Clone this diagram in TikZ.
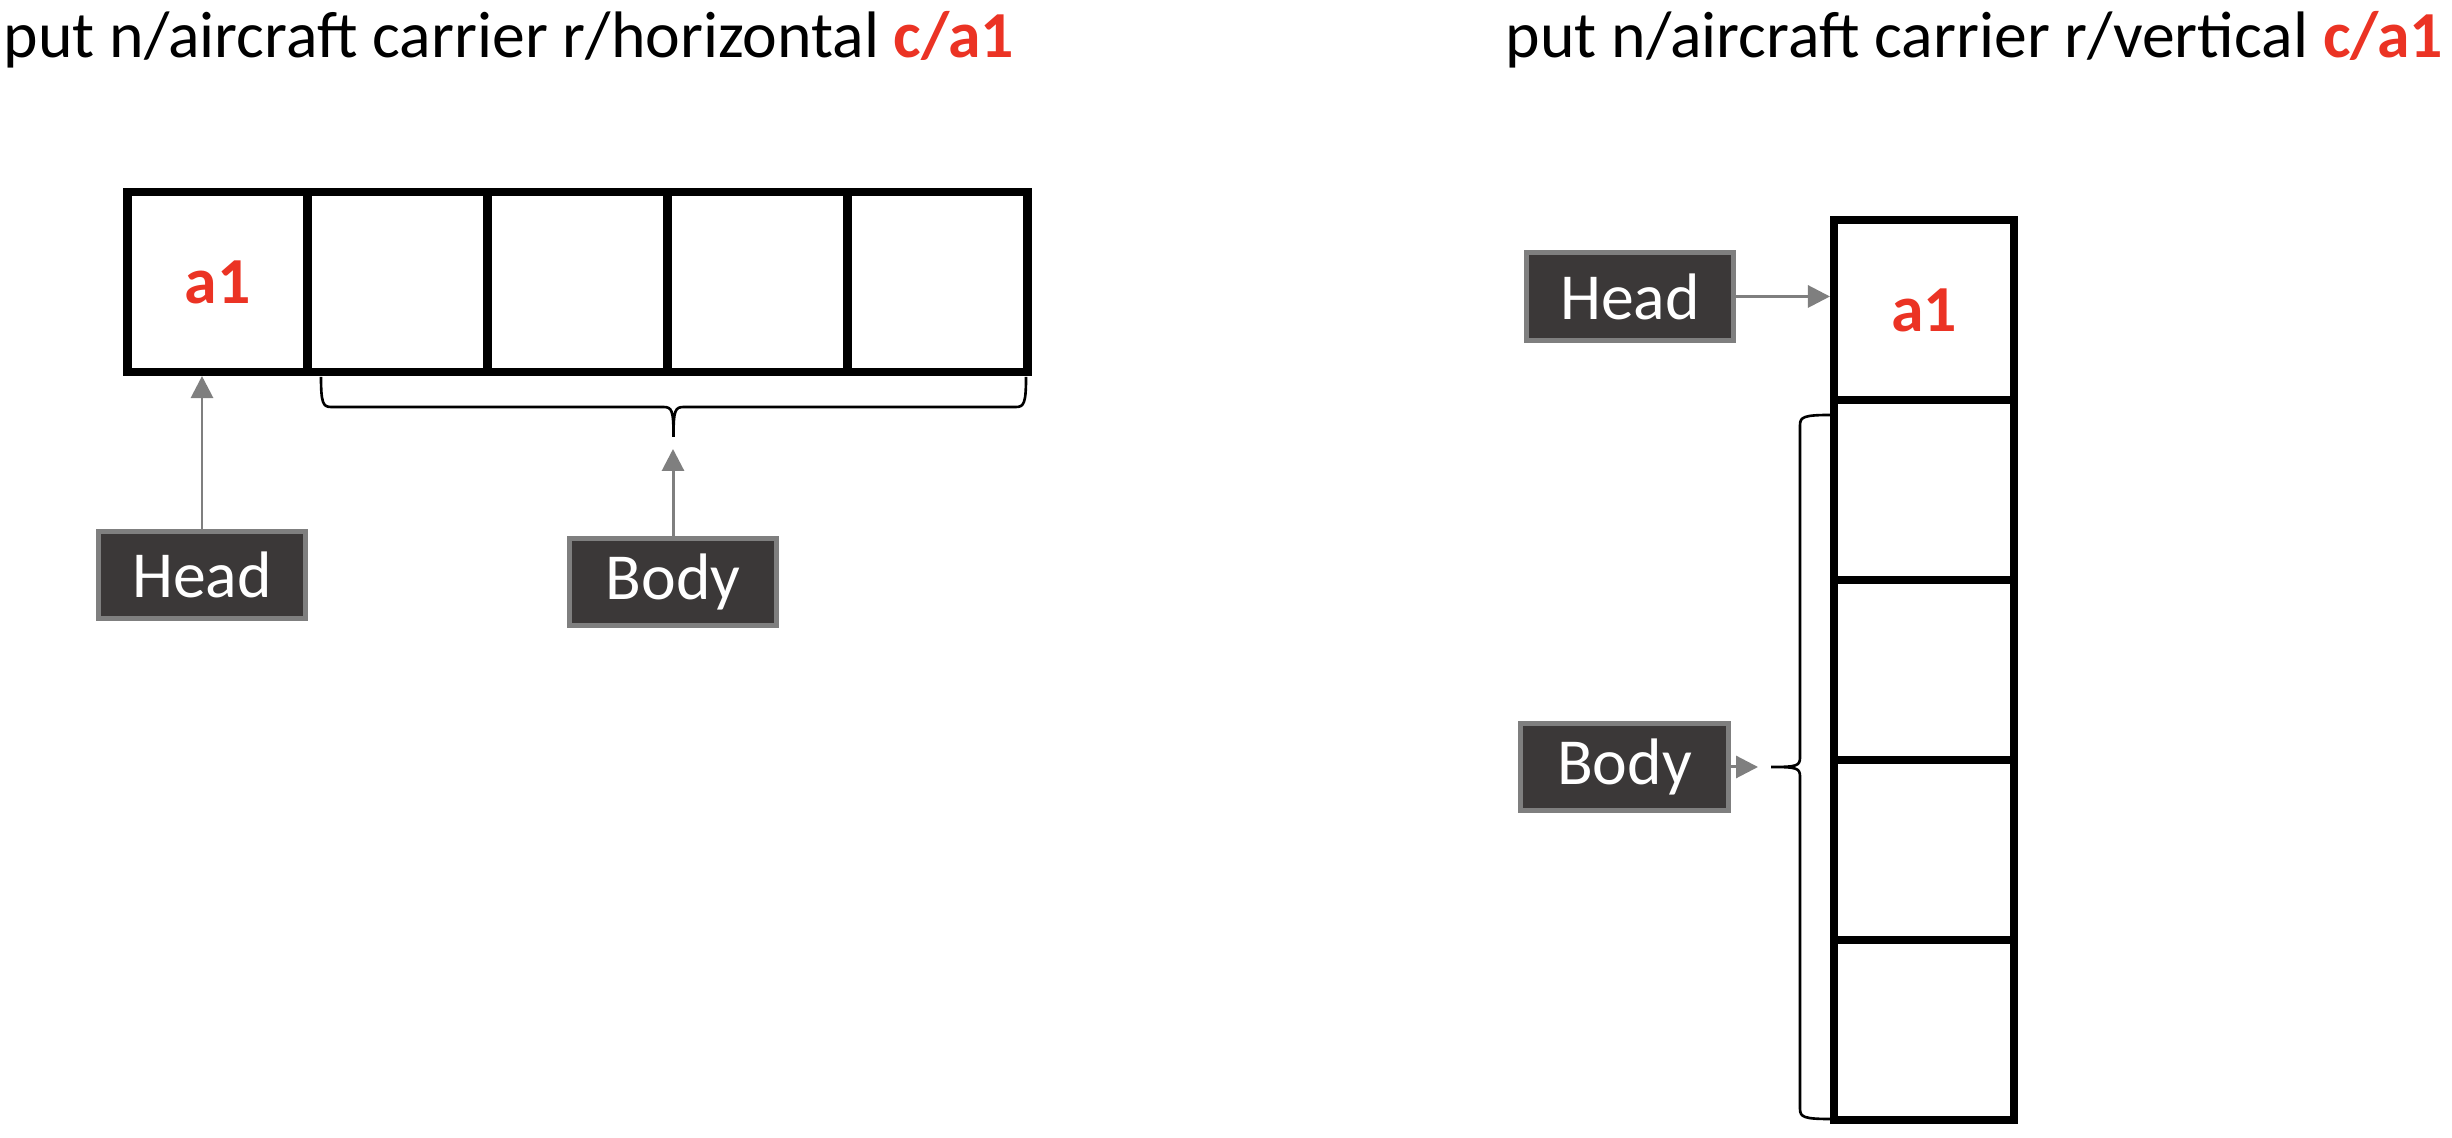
\documentclass[tikz,border=0pt]{standalone}
\usepackage{fontspec}
\setmainfont{Carlito}
\usepackage{tikz}
\usetikzlibrary{arrows.meta}
\definecolor{hitred}{RGB}{235,51,36}
\definecolor{tagfill}{RGB}{59,56,56}
\definecolor{tagedge}{RGB}{127,127,127}

\begin{document}
\begin{tikzpicture}[>={Triangle[length=0.22cm,width=0.22cm]}, font=\fontsize{18.7}{22}\selectfont,
		cell/.style={draw, line width=2.3pt, minimum size=1.8cm, inner sep=0pt},
		tag/.style={draw=tagedge, fill=tagfill, line width=1.3pt, text=white, minimum width=2.075cm, minimum height=0.875cm, inner sep=0pt},
		link/.style={->, draw=tagedge, line width=0.85pt},
		curly/.style={line width=0.75pt},
		hit/.style={text=hitred, font=\fontsize{18.7}{22}\selectfont\bfseries}]
		\useasboundingbox (0,0) rectangle (24.52,11.38);
		% titles
		\node[anchor=base west, inner sep=0pt] (titleL) at (0.03,10.80) {put n/aircraft carrier r/horizontal \textcolor{hitred}{\textbf{c/a1}}};
		\node[anchor=base west, inner sep=0pt] (titleR) at (15.05,10.80) {put n/aircraft carrier r/vertical \textcolor{hitred}{\textbf{c/a1}}};
		% horizontal ship: five cells in a row
		\foreach \i in {1,...,5}
			\node[cell] (h\i) at ({2.175+(\i-1)*1.8},8.56) {};
		\node[hit] (a1L) at (h1) {a1};
		% vertical ship: five cells in a column
		\foreach \i in {1,...,5}
			\node[cell] (v\i) at (19.24,{8.28-(\i-1)*1.8}) {};
		\node[hit] (a1R) at (v1) {a1};
		% brace under the body cells (left)
		\coordinate (tipL) at (6.735,7.01);
		\draw[curly] (3.21,7.61) .. controls (3.21,7.35) and (3.23,7.31) .. (3.31,7.31) -- (6.63,7.31)
			.. controls (6.72,7.31) and (6.735,7.28) .. (tipL)
			.. controls (6.735,7.28) and (6.75,7.31) .. (6.84,7.31) -- (10.16,7.31)
			.. controls (10.24,7.31) and (10.26,7.35) .. (10.26,7.61);
		% brace beside the body cells (right)
		\coordinate (tipR) at (17.71,3.71);
		\draw[curly] (18.30,7.23) .. controls (18.04,7.23) and (18.00,7.21) .. (18.00,7.13) -- (18.00,3.81)
			.. controls (18.00,3.72) and (17.97,3.71) .. (tipR)
			.. controls (17.97,3.71) and (18.00,3.70) .. (18.00,3.61) -- (18.00,0.29)
			.. controls (18.00,0.21) and (18.04,0.19) .. (18.30,0.19);
		% labels
		\node[tag] (headL) at (2.02,5.63) {Head};
		\node[tag] (bodyL) at (6.73,5.56) {Body};
		\node[tag] (headR) at (16.30,8.415) {Head};
		\node[tag] (bodyR) at (16.245,3.71) {Body};
		% pointers
		\draw[link] (headL.north) -- (headL.north |- h1.south);
		\draw[link, shorten >=0.12cm] (bodyL.north) -- (bodyL.north |- tipL);
		\draw[link] (headR.east) -- (headR.east -| v1.west);
		\draw[link, shorten >=0.13cm] (bodyR.east) -- (bodyR.east -| tipR);
	\end{tikzpicture}
\end{document}
